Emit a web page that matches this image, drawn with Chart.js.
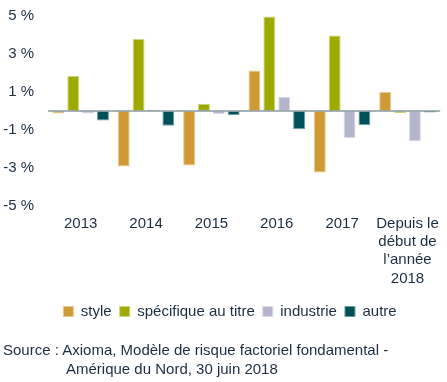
<!DOCTYPE html>
<html>
<head>
<meta charset="utf-8">
<script src="https://cdn.jsdelivr.net/npm/chart.js@4"></script>
<style>
  html, body { margin: 0; padding: 0; background: #fff; }
  #wrap { position: relative; width: 447px; height: 382px; }
  #source {
    position: absolute; left: 3px; top: 340px;
    font: 15px "Liberation Sans", Arial, sans-serif; color: #1c2e42;
    line-height: 19px;
  }
  #source .indent { padding-left: 63px; }
</style>
</head>
<body>
<div id="wrap">
  <canvas id="chart" width="447" height="382"></canvas>
  <div id="source">Source : Axioma, Modèle de risque factoriel fondamental -<br><span class="indent">Amérique du Nord, 30 juin 2018</span></div>
</div>
<script>
// Data
const categories = ['2013', '2014', '2015', '2016', '2017', ['Depuis le', 'début de', 'l’année', '2018']];
const styleVals = [-0.12, -2.91, -2.86, 2.14, -3.23, 1.0];
const specVals = [1.84, 3.79, 0.38, 4.98, 3.98, -0.1];
const industryVals = [-0.12, 0.08, -0.15, 0.75, -1.42, -1.58];
const otherVals = [-0.49, -0.77, -0.2, -0.96, -0.74, -0.08];
const yTicks = [-5, -3, -1, 1, 3, 5];

const textColor = '#1c2e42';
const fontFamily = '"Liberation Sans", Arial, sans-serif';

// zero line drawn on top of the bars, legend nudged a bit to the right
const zeroLine = {
  id: 'zeroLine',
  afterLayout(chart) {
    chart.legend.left += 8;
    chart.legend.right += 8;
  },
  afterDatasetsDraw(chart) {
    const y = chart.scales.y.getPixelForValue(0);
    const area = chart.chartArea;
    const ctx = chart.ctx;
    ctx.save();
    ctx.strokeStyle = '#8a9a9e';
    ctx.lineWidth = 1.5;
    ctx.beginPath();
    ctx.moveTo(area.left, y);
    ctx.lineTo(area.right, y);
    ctx.stroke();
    ctx.restore();
  }
};

function series(label, data, color, border) {
  return {
    label: label,
    data: data,
    backgroundColor: color,
    borderColor: border,
    borderWidth: 1,
    borderSkipped: false,
    barPercentage: 0.8,
    categoryPercentage: 0.91
  };
}

new Chart(document.getElementById('chart'), {
  type: 'bar',
  data: {
    labels: categories,
    datasets: [
      series('style', styleVals, '#cf9a35', '#e6c98e'),
      series('spécifique au titre', specVals, '#9faa00', '#cdd47a'),
      series('industrie', industryVals, '#b4b4cd', '#d8d8e6'),
      series('autre', otherVals, '#00505a', '#6f9a9f')
    ]
  },
  options: {
    responsive: false,
    animation: false,
    layout: { padding: { top: 16, right: 3, left: 0, bottom: 53 } },
    scales: {
      x: {
        grid: { display: false, drawTicks: false },
        border: { display: false },
        ticks: {
          color: textColor,
          font: { family: fontFamily, size: 15, lineHeight: 1.23 },
          padding: 8,
          maxRotation: 0,
          autoSkip: false
        }
      },
      y: {
        min: -5,
        max: 5,
        afterFit: function(scale) {
          scale.width = 48;
          scale.paddingTop = 0;
          scale.paddingBottom = 0;
        },
        afterBuildTicks: function(scale) {
          scale.ticks = yTicks.map(function(v) { return { value: v }; });
        },
        grid: { display: false, drawTicks: false },
        border: { display: false },
        ticks: {
          color: textColor,
          font: { family: fontFamily, size: 15 },
          padding: 14,
          callback: function(value) { return value + ' %'; }
        }
      }
    },
    plugins: {
      legend: {
        position: 'bottom',
        labels: {
          color: textColor,
          font: { family: fontFamily, size: 15 },
          boxWidth: 10,
          boxHeight: 10,
          padding: 8,
          useBorderRadius: false
        }
      },
      tooltip: { enabled: false }
    }
  },
  plugins: [zeroLine]
});
</script>
</body>
</html>
